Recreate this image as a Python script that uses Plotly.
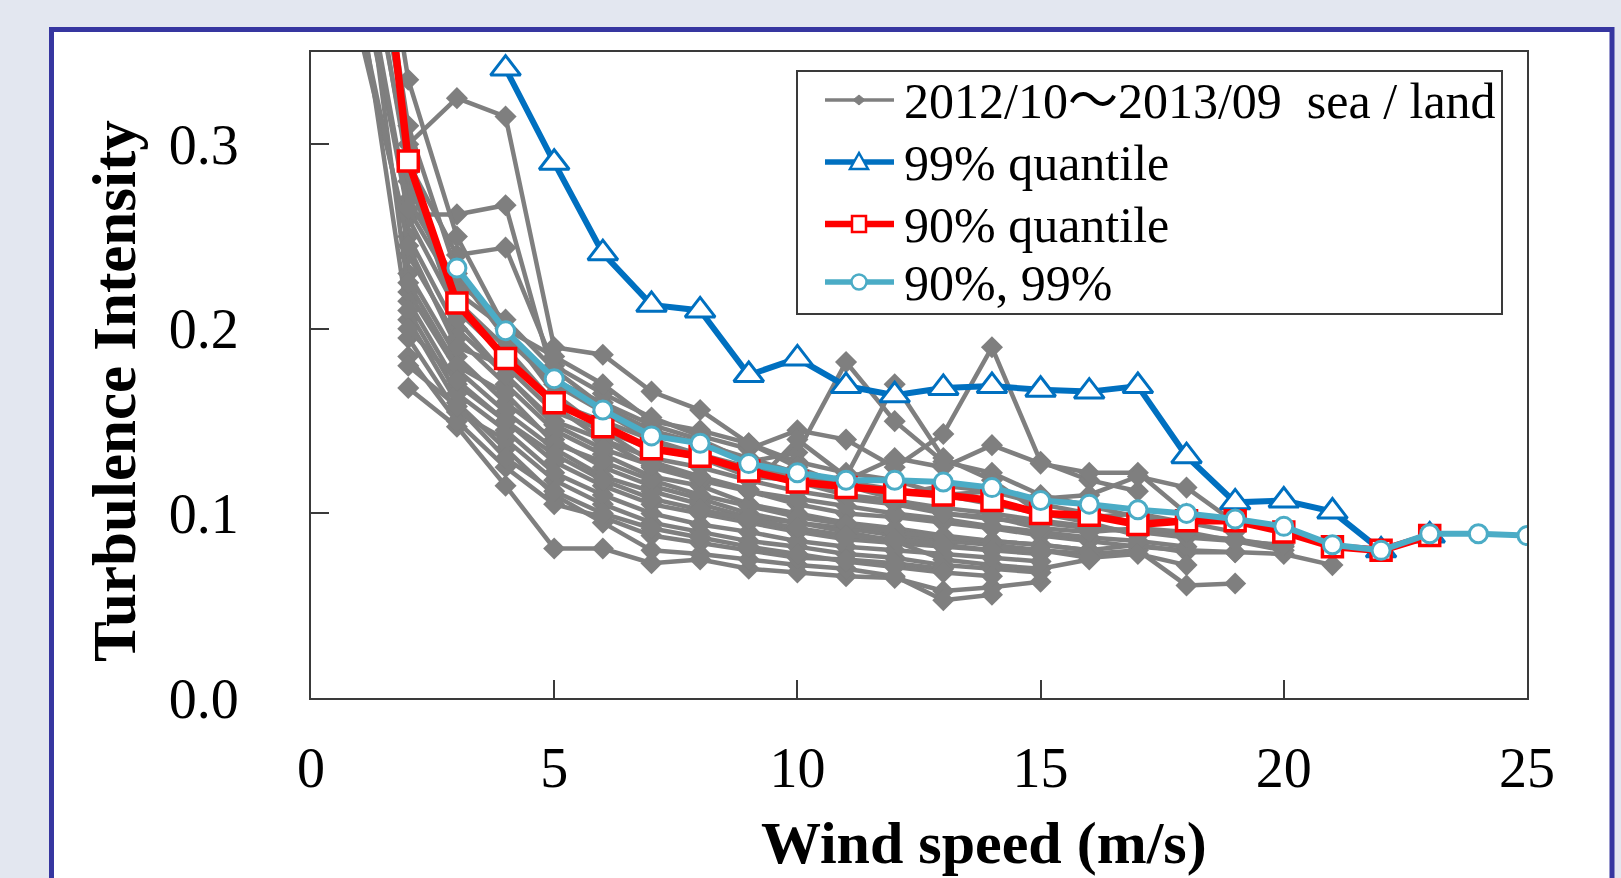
import plotly.graph_objects as go

# ---------------- data ----------------
WS = list(range(1, 22))

GRAY_SERIES = [
    [0.46, 0.300, 0.325, 0.315, 0.190, 0.186, 0.166, 0.156, 0.138, 0.128, 0.122, 0.118, 0.110, 0.112, 0.105, 0.100, 0.095],
    [0.40, 0.262, 0.262, 0.267, 0.172, 0.160, 0.148, 0.140, 0.128, 0.133, 0.182, 0.150, 0.128, 0.122, 0.110, 0.104, 0.098, 0.094],
    [0.43, 0.290, 0.240, 0.244, 0.180, 0.165, 0.152, 0.142, 0.135, 0.145, 0.140, 0.125, 0.143, 0.190, 0.128, 0.118, 0.112],
    [None, 0.168, 0.147, 0.115, 0.081, 0.081, 0.073, 0.075, 0.070, 0.068, 0.066, 0.065, 0.058, 0.060, 0.063],
    [0.38, 0.205, 0.160, 0.135, 0.110, 0.095, 0.080, 0.078, 0.075, 0.072, 0.070, 0.066, 0.053, 0.056],
    [0.50, 0.335, 0.250, 0.200, 0.165, 0.145, 0.128, 0.120, 0.112, 0.105, 0.100, 0.098, 0.095, 0.092, 0.088, 0.085, 0.082, 0.080, 0.079, 0.078, 0.072],
    [0.36, 0.250, 0.200, 0.175, 0.150, 0.140, 0.130, 0.125, 0.118, 0.112, 0.108, 0.105, 0.100, 0.097, 0.095, 0.092, 0.090, 0.088, 0.086, 0.082],
    [None, 0.230, 0.185, 0.160, 0.140, 0.125, 0.115, 0.108, 0.100, 0.095, 0.092, 0.088, 0.085, 0.083, 0.080, 0.078, 0.080, 0.061, 0.062],
    [0.55, 0.280, 0.215, 0.190, 0.160, 0.150, 0.140, 0.132, 0.125, 0.120, 0.117, 0.113, 0.110, 0.105, 0.100, 0.098, 0.100, 0.095, 0.090],
    [None, 0.215, 0.170, 0.150, 0.128, 0.115, 0.105, 0.100, 0.095, 0.090, 0.086, 0.084, 0.082, 0.080, 0.078],
    [0.39, 0.270, 0.225, 0.205, 0.178, 0.158, 0.145, 0.138, 0.130, 0.122, 0.118, 0.130, 0.125, 0.137, 0.127, 0.122, 0.122, 0.100],
    [None, 0.240, 0.195, 0.170, 0.145, 0.132, 0.120, 0.115, 0.105, 0.100, 0.095, 0.092, 0.088, 0.085, 0.083, 0.080, 0.083, 0.079, 0.079],
    [0.42, 0.220, 0.178, 0.155, 0.135, 0.120, 0.112, 0.105, 0.098, 0.095, 0.090, 0.085, 0.075, 0.072, 0.070, 0.075],
    [None, 0.260, 0.210, 0.185, 0.158, 0.140, 0.125, 0.118, 0.112, 0.108, 0.104, 0.100, 0.097, 0.093, 0.090, 0.087, 0.085, 0.082],
    [None, 0.195, 0.155, 0.140, 0.118, 0.105, 0.095, 0.090, 0.085, 0.082, 0.078, 0.076, 0.072, 0.070, 0.068],
    [0.37, 0.245, 0.190, 0.180, 0.155, 0.145, 0.135, 0.130, 0.120, 0.118, 0.115, 0.110, 0.115, 0.112, 0.108, 0.110, 0.120, 0.114, 0.095],
    [None, 0.210, 0.165, 0.145, 0.122, 0.110, 0.100, 0.094, 0.090, 0.085, 0.082, 0.080, 0.078, 0.076, 0.074],
    [0.48, 0.310, 0.230, 0.195, 0.170, 0.155, 0.140, 0.130, 0.122, 0.117, 0.110, 0.107, 0.103, 0.100, 0.096, 0.093, 0.090, 0.087, 0.085, 0.080],
    [None, 0.225, 0.180, 0.165, 0.138, 0.128, 0.118, 0.110, 0.104, 0.098, 0.094, 0.090, 0.087, 0.085, 0.083, 0.080],
    [None, 0.185, 0.150, 0.125, 0.105, 0.098, 0.088, 0.084, 0.080, 0.076, 0.075, 0.073, 0.070],
    [0.44, 0.285, 0.205, 0.175, 0.148, 0.135, 0.126, 0.120, 0.113, 0.140, 0.120, 0.170, 0.130, 0.118, 0.100, 0.095, 0.088],
    [None, 0.200, 0.172, 0.150, 0.132, 0.118, 0.108, 0.102, 0.097, 0.092, 0.088, 0.086, 0.083, 0.080, 0.080, 0.076, 0.078, 0.072],
    [0.41, 0.265, 0.220, 0.200, 0.185, 0.170, 0.150, 0.145, 0.138, 0.125, 0.115, 0.108, 0.100, 0.098, 0.092, 0.090, 0.092, 0.090, 0.085, 0.083],
    [None, 0.180, 0.158, 0.130, 0.112, 0.100, 0.092, 0.087, 0.082, 0.078, 0.074, 0.071, 0.068, 0.066],
]

WS_Q99 = list(range(4, 24))
Q99 = [0.341, 0.290, 0.241, 0.213, 0.210, 0.175, 0.184, 0.169, 0.164, 0.168, 0.169, 0.167, 0.166, 0.169,
       0.131, 0.106, 0.107, 0.101, 0.080, 0.088]

WS_Q90 = list(range(1, 24))
Q90 = [0.52, 0.291, 0.214, 0.184, 0.160, 0.147, 0.135, 0.131, 0.123, 0.117, 0.114, 0.112, 0.110, 0.107,
       0.100, 0.099, 0.094, 0.096, 0.096, 0.090, 0.082, 0.080, 0.088]

WS_QC = list(range(3, 26))
QC = [0.233, 0.199, 0.173, 0.156, 0.142, 0.138, 0.127, 0.122, 0.118, 0.118, 0.117, 0.114, 0.107, 0.105,
      0.102, 0.100, 0.097, 0.093, 0.083, 0.080, 0.089, 0.089, 0.088]

NAMES = ["2012/10\uff5e2013/09 \u00a0sea / land", "99% quantile", "90% quantile", "90%, 99%"]
Y_TICKS = [0.0, 0.1, 0.2, 0.3]
Y_TICK_TEXT = ["0.0", "0.1", "0.2", "0.3"]
X_TICKS = [0, 5, 10, 15, 20, 25]
X_TITLE = "Wind speed (m/s)"
Y_TITLE = "Turbulence Intensity"

# ---------------- styles ----------------
GRAY = "#7f7f7f"
BLUE = "#0070c0"
RED = "#ff0000"
CYAN = "#4bacc6"
AXC = "#3a3a3a"
FONT = "Liberation Serif"
LEG_FONT = "Liberation Serif, 'Noto Sans CJK JP'"

L, R, T, B = 311, 94, 52, 180
W, H = 1621, 878
pw, ph = W - L - R, H - T - B


def px_x(p):
    return (p - L) / pw


def px_y(p):
    return (H - B - p) / ph


fig = go.Figure()

for i, ys in enumerate(GRAY_SERIES):
    fig.add_trace(go.Scatter(
        x=WS[:len(ys)], y=ys, mode="lines+markers",
        line=dict(color=GRAY, width=4.5),
        marker=dict(symbol="diamond", size=17, color=GRAY),
        name=NAMES[0], showlegend=False,
    ))

fig.add_trace(go.Scatter(
    x=WS_Q99, y=Q99, mode="lines+markers", name=NAMES[1], showlegend=False,
    line=dict(color=BLUE, width=6),
    marker=dict(symbol="triangle-up", size=26, color="white", line=dict(color=BLUE, width=3)),
))
fig.add_trace(go.Scatter(
    x=WS_Q90, y=Q90, mode="lines+markers", name=NAMES[2], showlegend=False,
    line=dict(color=RED, width=7.5),
    marker=dict(symbol="square", size=20, color="white", line=dict(color=RED, width=3.5)),
))
fig.add_trace(go.Scatter(
    x=WS_QC, y=QC, mode="lines+markers", name=NAMES[3], showlegend=False,
    line=dict(color=CYAN, width=6),
    marker=dict(symbol="circle", size=18, color="white", line=dict(color=CYAN, width=3)),
))

shapes = []
annotations = []

# outer panel with blue frame
shapes.append(dict(type="rect", xref="paper", yref="paper",
                   x0=px_x(51.5), x1=px_x(1612), y0=px_y(920), y1=px_y(29.5),
                   line=dict(color="#3636a0", width=5), fillcolor="white", layer="below"))

# ---- legend (drawn as decoration) ----
shapes.append(dict(type="rect", xref="paper", yref="paper",
                   x0=px_x(797), x1=px_x(1502), y0=px_y(314), y1=px_y(71),
                   line=dict(color=AXC, width=2), fillcolor="white", layer="above"))

ROWS = [100, 162, 224, 282]
LCOLS = [GRAY, BLUE, RED, CYAN]
LWID = [3.5, 5.5, 6.5, 5.5]
lx0, lx1, mx = 825, 894, 859


def pth(points):
    s = "M " + " L ".join(f"{px_x(a):.5f},{px_y(b):.5f}" for a, b in points) + " Z"
    return s


for k, ry in enumerate(ROWS):
    shapes.append(dict(type="line", xref="paper", yref="paper",
                       x0=px_x(lx0), x1=px_x(lx1), y0=px_y(ry), y1=px_y(ry),
                       line=dict(color=LCOLS[k], width=LWID[k]), layer="above"))
    annotations.append(dict(xref="paper", yref="paper", x=px_x(902), y=px_y(ry + 1),
                            xanchor="left", yanchor="middle", showarrow=False,
                            text=NAMES[k], font=dict(family=LEG_FONT, size=50, color="black")))

# legend marker glyphs
shapes.append(dict(type="path", xref="paper", yref="paper", layer="above",
                   path=pth([(mx - 6, ROWS[0]), (mx, ROWS[0] - 5), (mx + 6, ROWS[0]), (mx, ROWS[0] + 5)]),
                   fillcolor=GRAY, line=dict(color=GRAY, width=1)))
shapes.append(dict(type="path", xref="paper", yref="paper", layer="above",
                   path=pth([(mx - 9, ROWS[1] + 7), (mx + 9, ROWS[1] + 7), (mx, ROWS[1] - 9)]),
                   fillcolor="white", line=dict(color=BLUE, width=2.5)))
shapes.append(dict(type="rect", xref="paper", yref="paper", layer="above",
                   x0=px_x(mx - 7), x1=px_x(mx + 7), y0=px_y(ROWS[2] + 8), y1=px_y(ROWS[2] - 8),
                   fillcolor="white", line=dict(color=RED, width=2.5)))
shapes.append(dict(type="circle", xref="paper", yref="paper", layer="above",
                   x0=px_x(mx - 7.5), x1=px_x(mx + 7.5), y0=px_y(ROWS[3] + 7.5), y1=px_y(ROWS[3] - 7.5),
                   fillcolor="white", line=dict(color=CYAN, width=2.5)))

# axis titles
annotations.append(dict(xref="paper", yref="paper", x=px_x(984), y=px_y(843),
                        xanchor="center", yanchor="middle", showarrow=False, text=X_TITLE,
                        font=dict(family=FONT, size=60, color="black", weight="bold")))
annotations.append(dict(xref="paper", yref="paper", x=px_x(114), y=px_y(391),
                        xanchor="center", yanchor="middle", showarrow=False, text=Y_TITLE, textangle=-90,
                        font=dict(family=FONT, size=61, color="black", weight="bold")))

axis_common = dict(
    showgrid=False, zeroline=False, showline=True, linecolor=AXC, linewidth=2,
    mirror=True, ticks="inside", tickwidth=2, tickcolor=AXC,
    tickfont=dict(family=FONT, size=56, color="black"),
)

fig.update_layout(
    width=W, height=H,
    margin=dict(l=L, r=R, t=T, b=B, autoexpand=False),
    paper_bgcolor="#e3e7f0", plot_bgcolor="rgba(0,0,0,0)",
    font=dict(family=FONT, color="black"),
    showlegend=False,
    shapes=shapes,
    annotations=annotations,
    xaxis=dict(range=[0, 25], tickvals=X_TICKS, ticklen=18, ticklabelstandoff=20, **axis_common),
    yaxis=dict(range=[0, 0.35], tickvals=Y_TICKS, ticktext=Y_TICK_TEXT, ticklen=18, ticklabelstandoff=59,
               **axis_common),
)

fig.write_html("out.html", config={"displayModeBar": False},
               post_script="document.body.style.margin='0';document.body.style.overflow='hidden';")
